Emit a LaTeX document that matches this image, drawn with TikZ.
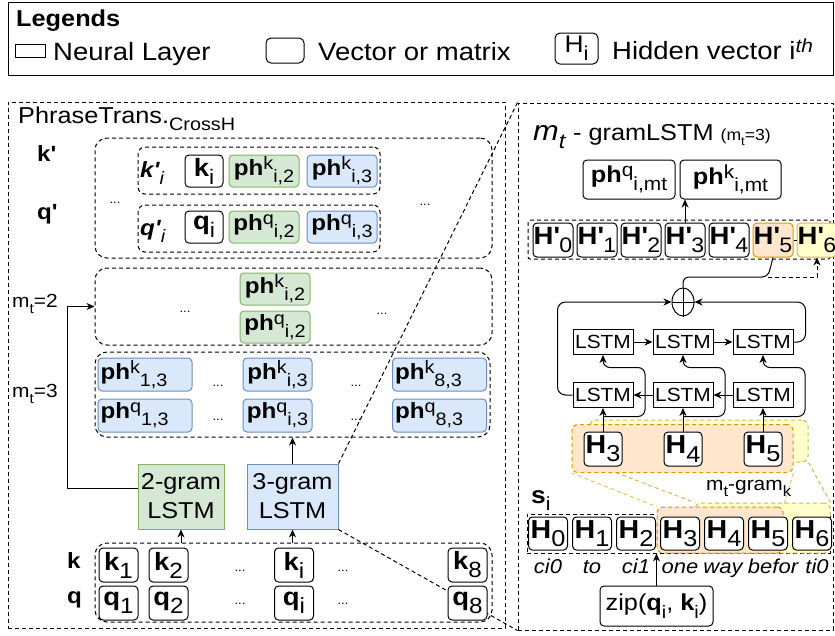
\documentclass[tikz,border=0pt]{standalone}
\usepackage{fontspec}
\setmainfont{Liberation Sans}[FakeStretch=1.1]
\usetikzlibrary{positioning,arrows.meta,shapes.geometric}
\definecolor{grfill}{HTML}{D5E8D4}
\definecolor{grline}{HTML}{82B366}
\definecolor{blfill}{HTML}{DAE8FC}
\definecolor{blline}{HTML}{6C8EBF}
\definecolor{orfill}{HTML}{FFE6CC}
\definecolor{orline}{HTML}{D79B00}
\definecolor{yefill}{HTML}{FFFFCC}
\definecolor{yeline}{HTML}{D6B656}
\newcommand\fsz[1]{\fontsize{#1}{#1}\selectfont}
\newcommand\subx[2][18]{\raisebox{-0.32em}{\fsz{#1}#2}}
\newcommand\supx[2][18]{\raisebox{0.27em}{\fsz{#1}#2}}
\newcommand\pr{\textquotesingle}
\tikzset{
  box/.style={draw, line width=1pt, inner sep=0pt},
  vec/.style={box, rounded corners=4pt, fill=white, minimum height=32pt, font=\fsz{22}},
  grvec/.style={vec, draw=grline, fill=grfill},
  blvec/.style={vec, draw=blline, fill=blfill, minimum height=33pt},
  blwide/.style={blvec, minimum width=94pt, text width=89pt, align=left},
  hvec/.style={vec, minimum width=39pt, minimum height=33pt, font=\fsz{26}},
  kvec/.style={vec, minimum width=39pt, minimum height=34pt, font=\fsz{25}},
  lstm/.style={box, minimum width=60pt, minimum height=25pt, font=\fsz{19}},
  panel/.style={box, dash pattern=on 4pt off 3pt},
  grp/.style={panel, rounded corners=12pt},
  lbl/.style={anchor=base west, inner sep=0pt},
  word/.style={anchor=base, inner sep=0pt, font=\fsz{20}\itshape},
  dotsl/.style={inner sep=0pt, font=\fsz{12}},
  arr/.style={-{Stealth[length=8pt,width=7pt]}, line width=1pt},
  proj/.style={line width=1pt, dash pattern=on 4pt off 3pt},
}
\begin{document}
\begin{tikzpicture}[x=1pt, y=-1pt, font=\fsz{22}]
\useasboundingbox (0,0) rectangle (835,635);

\node[box, minimum width=825, minimum height=73] (legend) at (420.5,39) {};
\node[lbl, font=\fsz{23}\bfseries] (legtitle) at (16,26) {Legends};
\node[box, minimum width=30, minimum height=13] (legnl) at (30,50.5) {};
\node[lbl, font=\fsz{25}] (legnltxt) at (53,60) {Neural Layer};
\node[box, rounded corners=5pt, minimum width=38, minimum height=25] (legvec) at (285,50.5) {};
\node[lbl, font=\fsz{25}] (legvectxt) at (318,60) {Vector or matrix};
\node[box, rounded corners=5pt, minimum width=43, minimum height=31, font=\fsz{24}] (leghid) at (576.5,48.5) {H\subx[20]{i}};
\node[lbl, font=\fsz{25}] (leghidtxt) at (612,59) {Hidden vector i\supx[19]{\textit{th}}};

\node[panel, minimum width=497, minimum height=526] (phrase) at (256.5,365) {};
\node[panel, minimum width=315, minimum height=527] (gram) at (675.5,366.5) {};
\node[box, draw=grline, fill=grfill, minimum width=86, minimum height=65, align=center, font=\fontsize{23}{29}\selectfont] (gram2) at (181,496.5) {2-gram\\LSTM};
\node[box, draw=blline, fill=blfill, minimum width=91, minimum height=65, align=center, font=\fontsize{23}{29}\selectfont] (gram3) at (292.5,496.5) {3-gram\\LSTM};
\draw[proj] (gram3.north east) -- (gram.north west);
\draw[proj] (gram3.south east) -- (gram.south west);

\node[lbl, font=\fsz{23}] (phrasetitle) at (18,123) {PhraseTrans.\subx{CrossH}};
\node[grp, minimum width=397, minimum height=120] (topgrp) at (293.5,198) {};
\node[grp, rounded corners=7pt, minimum width=242, minimum height=47] (krow) at (259,170.5) {};
\node[grp, rounded corners=7pt, minimum width=242, minimum height=47] (qrow) at (259,228.5) {};
\node[lbl, font=\fsz{22}\bfseries] (kplbl) at (37,161) {k\pr};
\node[lbl, font=\fsz{22}\bfseries] (qplbl) at (37,219) {q\pr};
\node[lbl, font=\fsz{22}] (kilbl) at (140,177) {\textbf{\textit{k\pr}}\subx{\textit{i}}};
\node[lbl, font=\fsz{22}] (qilbl) at (140,235) {\textbf{\textit{q\pr}}\subx{\textit{i}}};
\node[vec, minimum width=38, font=\fsz{25}] (ki) at (204,171) {\textbf{k}\subx[21]{i}};
\node[grvec, minimum width=70, right=5pt of ki] (phki2) {\textbf{ph}\supx{k}\subx{i,2}};
\node[blvec, minimum width=70, minimum height=32, right=7pt of phki2] (phki3) {\textbf{ph}\supx{k}\subx{i,3}};
\node[vec, minimum width=38, font=\fsz{25}] (qi) at (204,227) {\textbf{q}\subx[21]{i}};
\node[grvec, minimum width=70, right=5pt of qi] (phqi2) {\textbf{ph}\supx{q}\subx{i,2}};
\node[blvec, minimum width=70, minimum height=32, right=7pt of phqi2] (phqi3) {\textbf{ph}\supx{q}\subx{i,3}};
\node[dotsl] (topdl) at (115,203) {...};
\node[dotsl] (topdr) at (425,205) {...};

\node[grp, minimum width=397, minimum height=77] (mid2) at (293.5,306.5) {};
\node[grvec, minimum width=70] (ph2k) at (275,289) {\textbf{ph}\supx{k}\subx{i,2}};
\node[grvec, minimum width=70, below=5pt of ph2k] (ph2q) {\textbf{ph}\supx{q}\subx{i,2}};
\node[dotsl] (mid2dl) at (185,312) {...};
\node[dotsl] (mid2dr) at (382,314) {...};
\node[lbl, font=\fsz{19}] (mt2) at (12,307) {m\subx[14]{t}=2};
\node[lbl, font=\fsz{19}] (mt3) at (12,397) {m\subx[14]{t}=3};

\node[grp, minimum width=395, minimum height=85] (mid3) at (292.5,394.5) {};
\node[blwide] (ph13k) at (145,374.5) {\textbf{ph}\supx{k}\subx{1,3}};
\node[blwide, below=7pt of ph13k] (ph13q) {\textbf{ph}\supx{q}\subx{1,3}};
\node[blvec, minimum width=69] (ph3ik) at (277.5,374.5) {\textbf{ph}\supx{k}\subx{i,3}};
\node[blvec, minimum width=69, below=7pt of ph3ik] (ph3iq) {\textbf{ph}\supx{q}\subx{i,3}};
\node[blwide] (ph83k) at (439.5,374.5) {\textbf{ph}\supx{k}\subx{8,3}};
\node[blwide, below=7pt of ph83k] (ph83q) {\textbf{ph}\supx{q}\subx{8,3}};
\node[dotsl] (mid3d1) at (218,386) {...};
\node[dotsl] (mid3d2) at (218,420) {...};
\node[dotsl] (mid3d3) at (356,386) {...};
\node[dotsl] (mid3d4) at (356,420) {...};

\node[grp, minimum width=397, minimum height=79] (ingrp) at (293.5,582.5) {};
\node[lbl, font=\fsz{22}\bfseries] (klbl) at (67,568) {k};
\node[lbl, font=\fsz{22}\bfseries] (qlbl) at (67,603) {q};
\node[kvec] (k1) at (118.5,565) {\textbf{k}\subx[22]{1}};
\node[kvec, right=10pt of k1] (k2) {\textbf{k}\subx[22]{2}};
\node[kvec] (kk) at (294,565) {\textbf{k}\subx[22]{i}};
\node[kvec] (k8) at (467.5,565) {\textbf{k}\subx[22]{8}};
\node[kvec, below=3pt of k1] (q1) {\textbf{q}\subx[22]{1}};
\node[kvec, below=3pt of k2] (q2) {\textbf{q}\subx[22]{2}};
\node[kvec, below=3pt of kk] (qq) {\textbf{q}\subx[22]{i}};
\node[kvec, below=3pt of k8] (q8) {\textbf{q}\subx[22]{8}};
\node[dotsl] (ind1) at (240,571) {...};
\node[dotsl] (ind2) at (240,604) {...};
\node[dotsl] (ind3) at (343,571) {...};
\node[dotsl] (ind4) at (343,604) {...};

\draw[arr] (gram2 |- ingrp.north) -- (gram2.south);
\draw[arr] (gram3 |- ingrp.north) -- (gram3.south);
\draw[arr] (gram3.north) -- (gram3 |- mid3.south);
\draw[arr] ([yshift=8pt]gram2.west) -- ++(-70,0) |- (mid2.west);

\node[lbl, font=\fsz{23}] (gramtitle) at (533,140) {\fsz{28}\textit{m}\subx[21]{\textit{t}}\fsz{23} - gramLSTM \fsz{16}(m\subx[12]{t}=3)};
\node[vec, minimum width=92, minimum height=39, font=\fsz{23}] (phqmt) at (629,179.5) {\textbf{ph}\supx[19]{q}\subx[19]{i,mt}};
\node[vec, minimum width=101, minimum height=39, font=\fsz{23}, right=4pt of phqmt] (phkmt) {\textbf{ph}\supx[19]{k}\subx[19]{i,mt}};

\node[panel, rounded corners=2pt, minimum width=302, minimum height=39] (hprow) at (679,239.5) {};
\node[hvec, minimum width=40, minimum height=34, font=\fsz{25}] (hp0) at (553,240) {\textbf{H\pr}\subx[21]{0}};
\node[hvec, minimum width=40, minimum height=34, font=\fsz{25}, right=3pt of hp0] (hp1) {\textbf{H\pr}\subx[21]{1}};
\node[hvec, minimum width=40, minimum height=34, font=\fsz{25}, right=3pt of hp1] (hp2) {\textbf{H\pr}\subx[21]{2}};
\node[hvec, minimum width=40, minimum height=34, font=\fsz{25}, right=3pt of hp2] (hp3) {\textbf{H\pr}\subx[21]{3}};
\node[hvec, minimum width=40, minimum height=34, font=\fsz{25}, right=3pt of hp3] (hp4) {\textbf{H\pr}\subx[21]{4}};
\node[hvec, minimum width=40, minimum height=34, font=\fsz{25}, right=3pt of hp4, draw=orline, fill=orfill] (hp5) {\textbf{H\pr}\subx[21]{5}};
\node[hvec, minimum width=40, minimum height=34, font=\fsz{25}, right=3pt of hp5, draw=yeline, fill=yefill] (hp6) {\textbf{H\pr}\subx[21]{6}};
\draw[line width=1pt] (hp5) -- (hp6);
\draw[arr] (hp3.north) -- (hp3.north |- phkmt.south);

\node[ellipse, box, minimum width=22, minimum height=28] (oplus) at (683,302) {};
\draw[line width=1pt] (oplus.north) -- (oplus.south) (oplus.west) -- (oplus.east);
\coordinate (jn) at (768,277);
\draw[line width=1pt, rounded corners=6pt] (oplus.north) |- (jn) -- (hp5.south);
\draw[arr, dash pattern=on 4pt off 3pt] (jn) -| (hp6.south);

\node[lstm] (f1) at (603,342) {LSTM};
\node[lstm] (f2) at (683,342) {LSTM};
\node[lstm] (f3) at (763,342) {LSTM};
\node[lstm] (b1) at (603,395) {LSTM};
\node[lstm] (b2) at (683,395) {LSTM};
\node[lstm] (b3) at (763,395) {LSTM};
\draw[arr] (f1) -- (f2);
\draw[arr] (f2) -- (f3);
\draw[arr] (b3) -- (b2);
\draw[arr] (b2) -- (b1);
\draw[arr, rounded corners=8pt] (f3.east) -- ++(12,0) |- (oplus.east);
\draw[arr, rounded corners=8pt] (b1.west) -- ++(-15,0) |- (oplus.west);

\node[panel, minimum width=303, minimum height=39] (srow) at (678.5,533.5) {};
\node[grp, draw=yeline, fill=yefill, rounded corners=6pt, minimum width=218, minimum height=42] (ytop) at (699,441) {};
\node[grp, draw=yeline, fill=yefill, rounded corners=6pt, minimum width=135, minimum height=50] (ybot) at (762.5,528) {};
\draw[proj, yeline] (ytop.south west) -- (ybot.north west);
\draw[proj, yeline] (ytop.south east) -- (ybot.north east);
\node[grp, draw=orline, fill=orfill, rounded corners=6pt, minimum width=221, minimum height=48] (otop) at (682.5,448.5) {};
\node[grp, draw=orline, fill=orfill, rounded corners=6pt, minimum width=126, minimum height=46] (obot) at (720,530) {};
\draw[proj, orline!60] (otop.south west) -- (obot.north west);
\draw[proj, orline!60] (otop.south east) -- (obot.north east);
\node[lbl, font=\fsz{19}] (mtgram) at (706,490) {m\subx[15]{t}-gram\subx[15]{k}};

\node[hvec, minimum width=38, minimum height=34] (h3t) at (603,449) {\textbf{H}\subx[23]{3}};
\node[hvec, minimum width=38, minimum height=34] (h4t) at (683,449) {\textbf{H}\subx[23]{4}};
\node[hvec, minimum width=38, minimum height=34] (h5t) at (763,449) {\textbf{H}\subx[23]{5}};
\draw[arr] (h3t) -- (b1);
\draw[arr] (h4t) -- (b2);
\draw[arr] (h5t) -- (b3);
\draw[arr, rounded corners=7pt] ([yshift=15pt]h3t.north) -- ++(42,0) -- ++(0,-49) -- ++(-42,0) -- (f1.south);
\draw[arr, rounded corners=7pt] ([yshift=15pt]h4t.north) -- ++(42,0) -- ++(0,-49) -- ++(-42,0) -- (f2.south);
\draw[arr, rounded corners=7pt] ([yshift=15pt]h5t.north) -- ++(42,0) -- ++(0,-49) -- ++(-42,0) -- (f3.south);

\node[lbl, font=\fsz{24}] (silbl) at (531,503) {\textbf{s}\subx[19]{i}};
\node[hvec] (h0) at (548,533.5) {\textbf{H}\subx[23]{0}};
\node[hvec, right=4pt of h0] (h1) {\textbf{H}\subx[23]{1}};
\node[hvec, right=4pt of h1] (h2) {\textbf{H}\subx[23]{2}};
\node[hvec, right=4pt of h2] (h3) {\textbf{H}\subx[23]{3}};
\node[hvec, right=4pt of h3] (h4) {\textbf{H}\subx[23]{4}};
\node[hvec, right=4pt of h4] (h5) {\textbf{H}\subx[23]{5}};
\node[hvec, right=4pt of h5] (h6) {\textbf{H}\subx[23]{6}};
\node[word] (w0) at ([yshift=-23pt]h0.south) {ci0};
\node[word] (w1) at ([yshift=-23pt]h1.south) {to};
\node[word] (w2) at ([yshift=-23pt]h2.south) {ci1};
\node[word] (w3) at ([yshift=-23pt]h3.south) {one};
\node[word] (w4) at ([yshift=-23pt, xshift=-1pt]h4.south) {way};
\node[word] (w5) at ([yshift=-23pt, xshift=5pt]h5.south) {befor};
\node[word] (w6) at ([yshift=-23pt, xshift=5pt]h6.south) {ti0};
\node[vec, minimum width=113, minimum height=40, font=\fsz{23}] (zip) at (656.5,606) {zip(\textbf{q}\subx{i}, \textbf{k}\subx{i})};
\draw[arr] (zip.north) -- (zip.north |- srow.south);
\end{tikzpicture}
\end{document}
